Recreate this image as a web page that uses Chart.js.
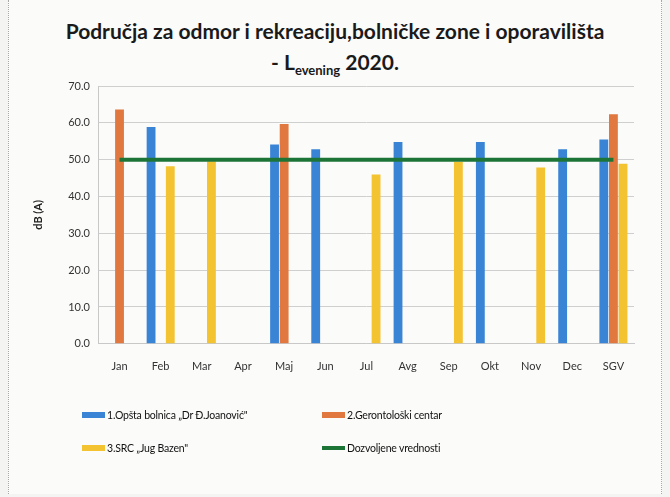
<!DOCTYPE html>
<html lang="sr">
<head>
  <meta charset="UTF-8">
  <title>Područja za odmor i rekreaciju - Levening 2020.</title>
  <script src="https://cdn.jsdelivr.net/npm/chart.js"></script>
  <style>
    html, body { margin: 0; padding: 0; }
    body { width: 670px; height: 497px; background: #f4f4f3; position: relative; overflow: hidden;
           font-family: 'Lato', sans-serif; color: #1a1a1a; }
    .frame { position: absolute; left: 8px; top: 0; width: 652px; height: 494px;
             border-left: 1px dotted #a8a8a8; border-right: 1px dotted #a8a8a8; background: #fbfbfa; }
    .title { position: absolute; left: 0; width: 670px; text-align: center; font-weight: bold; font-size: 21px; }
    .title sub { font-size: 13px; vertical-align: -5px; }
    #wrap { position: absolute; left: 0; top: 0; width: 670px; height: 497px; }
    .legend { position: absolute; font-size: 10.5px; display: flex; align-items: center; letter-spacing: -0.2px; color: #111; }
    .legend i { display: inline-block; width: 23px; height: 6px; margin-right: 2px; }
  </style>
</head>
<body>
  <div class="frame"></div>
  <div class="title" style="top:18px">Područja za odmor i rekreaciju,bolničke zone i oporavilišta</div>
  <div class="title" style="top:49px">- L<sub>evening</sub> 2020.</div>
  <div id="wrap"><canvas id="chart" width="670" height="497"></canvas></div>
  <div id="legend"></div>

  <script>
    const months = ['Jan', 'Feb', 'Mar', 'Apr', 'Maj', 'Jun', 'Jul', 'Avg', 'Sep', 'Okt', 'Nov', 'Dec', 'SGV'];
    const bolnica = [null, 58.9, null, null, 54.1, 52.8, null, 54.8, null, 54.8, null, 52.8, 55.5];
    const gerontoloski = [63.6, null, null, null, 59.7, null, null, null, null, null, null, null, 62.3];
    const jugBazen = [null, 48.2, 49.6, null, null, null, 46.0, null, 49.4, null, 47.9, null, 48.9];
    const dozvoljeno = [50, 50, 50, 50, 50, 50, 50, 50, 50, 50, 50, 50, 50];
    const yTicks = [0, 10, 20, 30, 40, 50, 60, 70];

    const font = "'Lato', sans-serif";

    const chart = new Chart(document.getElementById('chart'), {
      type: 'bar',
      data: {
        labels: months,
        datasets: [
          { label: '1.Opšta bolnica „Dr Đ.Joanović"', data: bolnica, backgroundColor: '#3a84d6', order: 1 },
          { label: '2.Gerontološki centar', data: gerontoloski, backgroundColor: '#e0783f', order: 1 },
          { label: '3.SRC  „Jug Bazen"', data: jugBazen, backgroundColor: '#f4c332', order: 1 },
          { type: 'line', label: 'Dozvoljene vrednosti', data: dozvoljeno, borderColor: '#1d7437',
            borderWidth: 4, pointRadius: 0, fill: false, order: 0 }
        ]
      },
      options: {
        responsive: false,
        animation: false,
        layout: { padding: { top: 86, left: 28, right: 36, bottom: 116 } },
        datasets: { bar: { categoryPercentage: 0.7, barPercentage: 0.92 } },
        plugins: { legend: { display: false }, title: { display: false }, tooltip: { enabled: false } },
        scales: {
          x: {
            grid: { display: false },
            border: { color: '#c8c8c8' },
            ticks: { color: '#333', font: { family: font, size: 11 }, padding: 8 }
          },
          y: {
            min: 0, max: 70,
            afterBuildTicks: axis => { axis.ticks = yTicks.map(v => ({ value: v })); },
            grid: { color: '#cfcfcf', drawTicks: false },
            border: { display: true, color: '#c8c8c8' },
            ticks: { color: '#333', font: { family: font, size: 11 }, padding: 9,
                     callback: v => v.toFixed(1) },
            title: { display: true, text: 'dB (A)', color: '#222', padding: { top: 4, bottom: 14 },
                     font: { family: font, size: 11, weight: 'bold' } }
          }
        }
      }
    });

    // legend laid out in two columns, like the original
    const legendPos = [[82, 409], [322, 409], [82, 442], [322, 442]];
    const legendEl = document.getElementById('legend');
    chart.data.datasets.forEach((ds, i) => {
      const item = document.createElement('div');
      item.className = 'legend';
      item.style.left = legendPos[i][0] + 'px';
      item.style.top = legendPos[i][1] + 'px';
      const sw = document.createElement('i');
      sw.style.background = ds.type === 'line' ? ds.borderColor : ds.backgroundColor;
      if (ds.type === 'line') sw.style.height = '4px';
      item.appendChild(sw);
      item.appendChild(document.createTextNode(ds.label));
      legendEl.appendChild(item);
    });
  </script>
</body>
</html>
